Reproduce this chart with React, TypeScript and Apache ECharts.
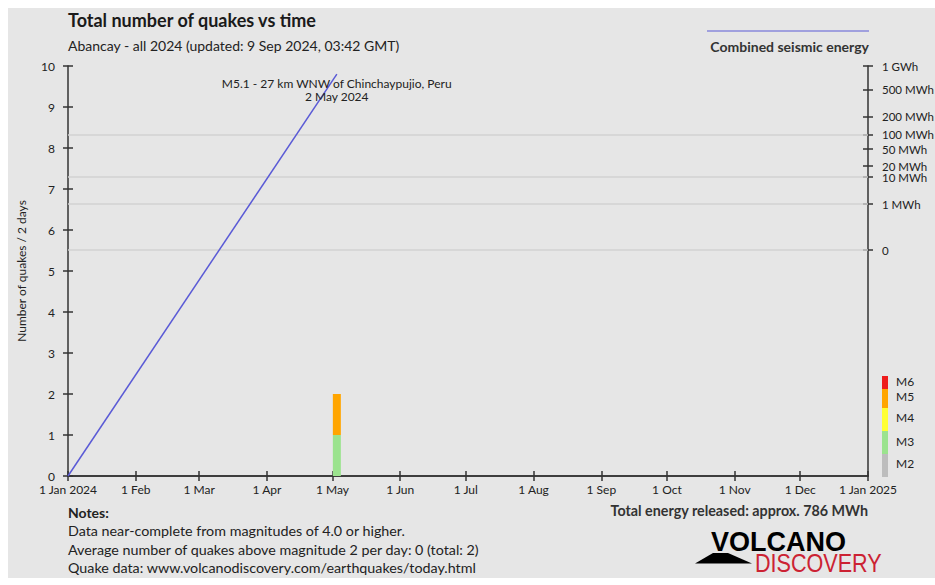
import React, { useEffect, useRef } from "react";
import * as echarts from "echarts";

// ---- data ----
const monthStarts = [
  "2024-01-01", "2024-02-01", "2024-03-01", "2024-04-01", "2024-05-01", "2024-06-01", "2024-07-01",
  "2024-08-01", "2024-09-01", "2024-10-01", "2024-11-01", "2024-12-01", "2025-01-01",
];
const monthLabels = [
  "1 Jan 2024", "1 Feb", "1 Mar", "1 Apr", "1 May", "1 Jun", "1 Jul",
  "1 Aug", "1 Sep", "1 Oct", "1 Nov", "1 Dec", "1 Jan 2025",
];
const energyTickPos = [5.51, 6.63, 7.29, 7.56, 7.97, 8.33, 8.76, 9.43, 10];
const energyTickLabels = ["0", "1 MWh", "10 MWh", "20 MWh", "50 MWh", "100 MWh", "200 MWh", "500 MWh", "1 GWh"];
const energyGridPos = [5.51, 6.63, 7.29, 8.33];
const binDates = ["2024-05-03"];
const m3Counts = [1];
const m5Counts = [1];
const energyDates = ["2024-01-01", "2024-05-03"];
const energyValues = [0, 9.8];
const magLegend = [
  { name: "M6", color: "#ee1c1c", y0: 368, y1: 381, ly: 373 },
  { name: "M5", color: "#ffa500", y0: 381, y1: 400, ly: 388 },
  { name: "M4", color: "#ffff33", y0: 400, y1: 423, ly: 409 },
  { name: "M3", color: "#9be38e", y0: 423, y1: 446, ly: 433 },
  { name: "M2", color: "#bdbdbd", y0: 446, y1: 469, ly: 455 },
];

const FONT = "Lato, 'Noto Sans', sans-serif";
const AXIS = "#333333";

// day categories: 1 Jan 2024 .. 1 Jan 2025 inclusive
const dayCategories: string[] = [];
{
  const start = Date.UTC(2024, 0, 1);
  const end = Date.UTC(2025, 0, 1);
  for (let t = start; t <= end; t += 86400000) {
    dayCategories.push(new Date(t).toISOString().slice(0, 10));
  }
}

export default function App() {
  const ref = useRef<HTMLDivElement>(null);
  useEffect(() => {
    if (!ref.current) return;
    const chart = echarts.init(ref.current, undefined, { renderer: "svg" });
    const isMonthStart = (_i: number, v: string) => monthStarts.includes(v);
    const lineStyle = { color: AXIS, width: 1.5 };
    const xBase = {
      type: "category" as const,
      data: dayCategories,
      boundaryGap: false,
      splitLine: { show: false },
    };
    const yLeftBase = {
      type: "value" as const,
      min: 0,
      max: 10,
      interval: 1,
      splitLine: { show: false },
    };
    const yRightBase = {
      type: "value" as const,
      min: 0,
      max: 10,
      position: "right" as const,
      splitLine: { show: false },
    };
    const seriesFrom = (dates: string[], vals: number[]) =>
      dayCategories.map((d) => {
        const i = dates.indexOf(d);
        return i >= 0 ? vals[i] : null;
      });
    chart.setOption({
      animation: false,
      backgroundColor: "#e6e6e6",
      textStyle: { fontFamily: FONT },
      grid: { left: 60, right: 67, top: 58, bottom: 102, containLabel: false, outerBoundsMode: "none" },
      xAxis: [
        {
          ...xBase,
          position: "bottom",
          axisLine: { show: true, lineStyle },
          axisTick: { show: true, length: 5, lineStyle, interval: isMonthStart },
          axisLabel: {
            interval: isMonthStart,
            formatter: (v: string) => {
              const i = monthStarts.indexOf(v);
              return i >= 0 ? monthLabels[i] : "";
            },
            color: "#222",
            fontSize: 12,
            fontFamily: FONT,
            margin: 7,
            hideOverlap: false,
          },
        },
        {
          ...xBase,
          position: "bottom",
          axisLine: { show: false },
          axisTick: { show: true, inside: true, length: 5, lineStyle, interval: isMonthStart },
          axisLabel: { show: false },
        },
        {
          ...xBase,
          position: "top",
          axisLine: { show: true, lineStyle },
          axisTick: { show: false },
          axisLabel: { show: false },
        },
      ],
      yAxis: [
        {
          ...yLeftBase,
          position: "left",
          name: "Number of quakes / 2 days",
          nameLocation: "middle",
          nameGap: 41,
          nameTextStyle: { color: "#222", fontSize: 12, fontFamily: FONT },
          axisLine: { show: true, lineStyle },
          axisTick: { show: true, length: 5, lineStyle },
          axisLabel: { color: "#222", fontSize: 12, fontFamily: FONT, margin: 13 },
        },
        {
          ...yLeftBase,
          position: "left",
          axisLine: { show: false },
          axisTick: { show: true, inside: true, length: 5, lineStyle },
          axisLabel: { show: false },
        },
        {
          ...yRightBase,
          axisLine: { show: true, lineStyle },
          axisTick: { show: true, length: 5, lineStyle, customValues: energyTickPos },
          axisLabel: {
            customValues: energyTickPos,
            formatter: (v: number) => {
              const i = energyTickPos.findIndex((p) => Math.abs(p - v) < 1e-6);
              return i >= 0 ? energyTickLabels[i] : "";
            },
            color: "#222",
            fontSize: 11.5,
            lineHeight: 11,
            fontFamily: FONT,
            margin: 14,
            hideOverlap: false,
          },
        },
        {
          ...yRightBase,
          axisLine: { show: false },
          axisTick: { show: true, inside: true, length: 5, lineStyle, customValues: energyTickPos },
          axisLabel: { show: false },
        },
      ],
      series: [
        {
          type: "bar",
          name: "M3",
          stack: "q",
          xAxisIndex: 0,
          yAxisIndex: 0,
          barWidth: 8,
          itemStyle: { color: "#9be38e" },
          data: seriesFrom(binDates, m3Counts),
          markLine: {
            silent: true,
            symbol: "none",
            label: { show: false },
            lineStyle: { color: "#d2d2d2", width: 1.5, type: "solid" },
            data: energyGridPos.map((v) => ({ yAxis: v })),
            z: 1,
          },
          z: 3,
        },
        {
          type: "bar",
          name: "M5",
          stack: "q",
          xAxisIndex: 0,
          yAxisIndex: 0,
          barWidth: 8,
          itemStyle: { color: "#ffa500" },
          data: seriesFrom(binDates, m5Counts),
          z: 3,
        },
        {
          type: "line",
          name: "Combined seismic energy",
          xAxisIndex: 0,
          yAxisIndex: 0,
          showSymbol: false,
          symbol: "none",
          connectNulls: true,
          lineStyle: { color: "#5a5ad6", width: 1.5 },
          data: seriesFrom(energyDates, energyValues),
          z: 4,
        },
      ],
      graphic: [
        {
          type: "text", left: 60, top: 3,
          style: { text: "Total number of quakes vs time", font: `bold 18px ${FONT}`, fill: "#1a1a1a" },
        },
        {
          type: "text", left: 60, top: 30,
          style: { text: "Abancay - all 2024 (updated: 9 Sep 2024, 03:42 GMT)", font: `14px ${FONT}`, fill: "#222" },
        },
        {
          type: "line",
          shape: { x1: 699, y1: 23, x2: 861, y2: 23 },
          style: { stroke: "#5a5ad6", lineWidth: 1.2 },
        },
        {
          type: "text", x: 861, y: 38,
          style: { text: "Combined seismic energy", font: `bold 14px ${FONT}`, fill: "#333", align: "right", verticalAlign: "middle" },
        },
        {
          type: "text", x: 328.7, y: 75.3,
          style: { text: "M5.1 - 27 km WNW of Chinchaypujio, Peru", font: `12px ${FONT}`, fill: "#222", align: "center", verticalAlign: "middle" },
          z: 10,
        },
        {
          type: "text", x: 328.7, y: 88.7,
          style: { text: "2 May 2024", font: `12px ${FONT}`, fill: "#222", align: "center", verticalAlign: "middle" },
          z: 10,
        },
        ...magLegend.flatMap((m) => [
          {
            type: "rect",
            shape: { x: 874, y: m.y0, width: 6, height: m.y1 - m.y0 },
            style: { fill: m.color },
          },
          {
            type: "text", x: 888, y: m.ly,
            style: { text: m.name, font: `12px ${FONT}`, fill: "#222", verticalAlign: "middle" },
          },
        ]),
        {
          type: "text", x: 60, y: 504,
          style: { text: "Notes:", font: `bold 14px ${FONT}`, fill: "#222", verticalAlign: "middle" },
        },
        {
          type: "text", x: 60, y: 522,
          style: { text: "Data near-complete from magnitudes of 4.0 or higher.", font: `14.3px ${FONT}`, fill: "#222", verticalAlign: "middle" },
        },
        {
          type: "text", x: 60, y: 541,
          style: { text: "Average number of quakes above magnitude 2 per day: 0 (total: 2)", font: `14.3px ${FONT}`, fill: "#222", verticalAlign: "middle" },
        },
        {
          type: "text", x: 60, y: 559,
          style: { text: "Quake data: www.volcanodiscovery.com/earthquakes/today.html", font: `14.3px ${FONT}`, fill: "#222", verticalAlign: "middle" },
        },
        {
          type: "text", x: 860, y: 502,
          style: { text: "Total energy released: approx. 786 MWh", font: `bold 14.3px ${FONT}`, fill: "#333", align: "right", verticalAlign: "middle" },
        },
        {
          type: "polygon",
          shape: { points: [[687, 555.5], [705, 545], [720, 545], [744, 555.5]] },
          style: { fill: "#000" },
        },
        {
          type: "text", x: 703, y: 534,
          style: { text: "VOLCANO", font: `bold 27px 'Liberation Sans', Arial, sans-serif`, fill: "#000", verticalAlign: "middle" },
        },
        {
          type: "text", x: 747, y: 555, scaleX: 0.83,
          style: { text: "DISCOVERY", font: `26px 'Liberation Sans', Arial, sans-serif`, fill: "#cc2233", verticalAlign: "middle" },
        },
      ],
    });
    return () => chart.dispose();
  }, []);
  return (
    <div
      ref={ref}
      style={{ position: "fixed", left: 8, top: 8, width: 927, height: 570 }}
    />
  );
}
